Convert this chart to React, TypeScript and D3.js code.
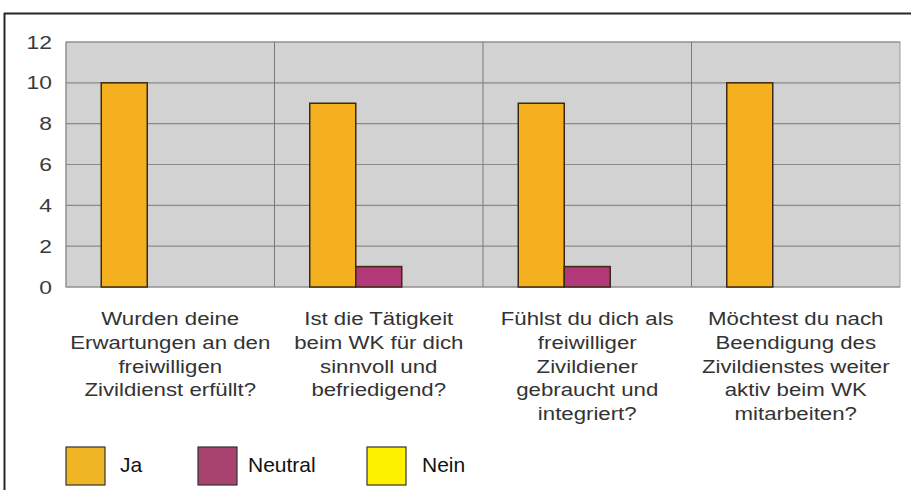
import React from "react";
import * as d3 from "d3";

const categories = [
  ["Wurden deine", "Erwartungen an den", "freiwilligen", "Zivildienst erfüllt?"],
  ["Ist die Tätigkeit", "beim WK für dich", "sinnvoll und", "befriedigend?"],
  ["Fühlst du dich als", "freiwilliger", "Zivildiener", "gebraucht und", "integriert?"],
  ["Möchtest du nach", "Beendigung des", "Zivildienstes weiter", "aktiv beim WK", "mitarbeiten?"],
];
const seriesNames = ["Ja", "Neutral", "Nein"];
const jaValues = [10, 9, 9, 10];
const neutralValues = [0, 1, 1, 0];
const neinValues = [0, 0, 0, 0];
const yTicks = [0, 2, 4, 6, 8, 10, 12];

const barColors = ["#F4B01E", "#B3387A", "#FFF200"];
const legendColors = ["#EFB524", "#A8426E", "#FFF200"];

const W = 911;
const H = 490;
const plot = { left: 66, right: 900, top: 42, bottom: 287 };
const SX = 1.27;

export default function App() {
  const catIdx = categories.map((_, i) => String(i));
  const x0 = d3.scaleBand<string>().domain(catIdx).range([plot.left, plot.right]).padding(0);
  const bw = x0.bandwidth();
  const barW = 46;
  const off = (bw - barW * 3) / 2;
  const x1 = d3.scaleBand<string>().domain(seriesNames).range([off, off + barW * 3]).padding(0);
  const y = d3.scaleLinear().domain([0, 12]).range([plot.bottom, plot.top]);
  const values = [jaValues, neutralValues, neinValues];

  return (
    <svg width={W} height={H} style={{ position: "absolute", left: 0, top: 0, background: "#fff" }}
      fontFamily="Liberation Sans, Arial, sans-serif">
      <rect x={0} y={0} width={W} height={H} fill="#fff" />
      {/* outer frame */}
      <line x1={4} x2={W} y1={13.5} y2={13.5} stroke="#262626" strokeWidth={2} />
      <line x1={4.5} x2={4.5} y1={13} y2={H} stroke="#262626" strokeWidth={2} />
      {/* plot background */}
      <rect x={plot.left} y={plot.top} width={plot.right - plot.left} height={plot.bottom - plot.top}
        fill="#D2D2D2" stroke="#9a9a9a" strokeWidth={1} />
      {yTicks.map((t) => (
        <line key={"g" + t} x1={plot.left} x2={plot.right} y1={y(t)} y2={y(t)} stroke="#8a8a8a" strokeWidth={1.2} />
      ))}
      {catIdx.slice(1).map((c) => (
        <line key={"s" + c} x1={x0(c)} x2={x0(c)} y1={plot.top} y2={plot.bottom} stroke="#7a7a7a" strokeWidth={1} />
      ))}
      <line x1={plot.left} x2={plot.left} y1={plot.top} y2={plot.bottom} stroke="#8a8a8a" strokeWidth={1} />
      {/* bars */}
      {catIdx.map((c, ci) =>
        seriesNames.map((s, si) => {
          const v = values[si][ci];
          if (v <= 0) return null;
          return (
            <rect key={c + s} x={(x0(c) as number) + (x1(s) as number)} y={y(v)} width={x1.bandwidth()}
              height={y(0) - y(v)} fill={barColors[si]} stroke="#3b2a12" strokeWidth={1.5} />
          );
        })
      )}
      {/* y tick labels */}
      {yTicks.map((t) => (
        <text key={"t" + t} transform={`translate(52,${y(t) + 6.5}) scale(${SX},1)`} textAnchor="end"
          fontSize={18} fill="#3a3a3a">{t}</text>
      ))}
      {/* category labels */}
      {catIdx.map((c, ci) => (
        <g key={"c" + c}>
          {categories[ci].map((line, li) => (
            <text key={li} transform={`translate(${(x0(c) as number) + bw / 2},${325 + li * 23.8}) scale(${SX},1)`}
              textAnchor="middle" fontSize={17.5} fill="#333">{line}</text>
          ))}
        </g>
      ))}
      {/* legend */}
      {seriesNames.map((s, i) => {
        const bx = [66, 198, 367][i];
        const tx = [120, 248, 422][i];
        return (
          <g key={"l" + s}>
            <rect x={bx} y={447} width={39} height={38} fill={legendColors[i]} stroke="#333" strokeWidth={1.2} />
            <text x={tx} y={472} fontSize={21} fill="#111">{s}</text>
          </g>
        );
      })}
    </svg>
  );
}
